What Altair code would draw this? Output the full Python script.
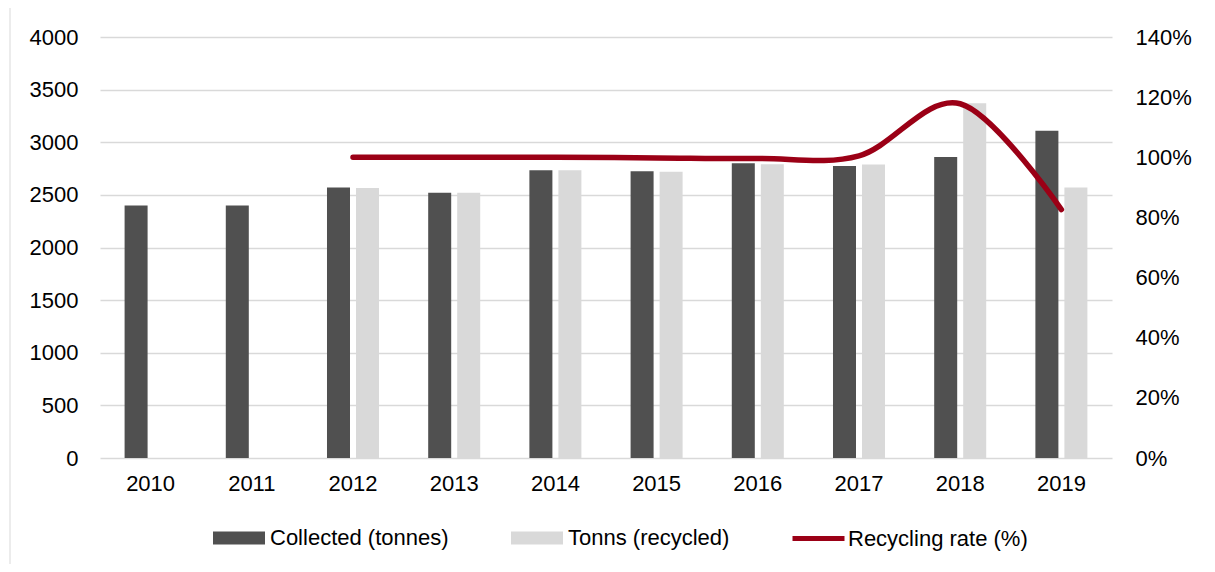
import altair as alt
import pandas as pd

years = ["2010", "2011", "2012", "2013", "2014", "2015", "2016", "2017", "2018", "2019"]
collected = [2400, 2400, 2570, 2520, 2735, 2725, 2800, 2775, 2860, 3110]
recycled = [None, None, 2565, 2520, 2733, 2720, 2790, 2788, 3370, 2570]
rate_years = ["2012", "2013", "2014", "2015", "2016", "2017", "2018", "2019"]
rate = [1.00, 1.00, 1.00, 0.998, 0.996, 1.005, 1.178, 0.826]

S_COL = "Collected (tonnes)"
S_REC = "Tonns (recycled)"
S_RATE = "Recycling rate (%)"

rows = []
for y, c, r in zip(years, collected, recycled):
    rows.append({"year": y, "series": S_COL, "value": c})
    if r is not None:
        rows.append({"year": y, "series": S_REC, "value": r})
bars_df = pd.DataFrame(rows)
line_df = pd.DataFrame({"year": rate_years, "rate": rate, "series": S_RATE})

FONT = "Liberation Sans"
FS = 22

xscale = alt.Scale(domain=years, paddingInner=0.486, paddingOuter=0.243)
xaxis = alt.Axis(title=None, labelFontSize=FS, labelFont=FONT, labelColor="#000000",
                 ticks=False, domain=False, grid=False, labelPadding=15, labelAngle=0)

bars = alt.Chart(bars_df).mark_bar().encode(
    x=alt.X("year:N", scale=xscale, axis=xaxis),
    xOffset=alt.XOffset("series:N", scale=alt.Scale(domain=[S_COL, S_REC], paddingInner=0.207, paddingOuter=0)),
    y=alt.Y("value:Q", scale=alt.Scale(domain=[0, 4000]),
            axis=alt.Axis(title=None, orient="left", values=list(range(0, 4001, 500)), format="d",
                          labelFontSize=FS, labelFont=FONT, labelColor="#000000",
                          ticks=False, domain=False, grid=True, gridColor="#d9d9d9",
                          gridWidth=1.3, labelPadding=22)),
    color=alt.Color("series:N",
                    scale=alt.Scale(domain=[S_COL, S_REC], range=["#505050", "#d9d9d9"]),
                    legend=alt.Legend(title=None, orient="none", legendX=113, legendY=488,
                                      direction="horizontal", columns=2,
                                      symbolType="M-1,-0.5H3V0.5H-1Z", symbolSize=676,
                                      symbolStrokeWidth=0, symbolOpacity=1,
                                      labelFontSize=FS, labelFont=FONT, labelColor="#000000",
                                      labelLimit=0, labelOffset=31, columnPadding=62, padding=0)),
)

line = alt.Chart(line_df).mark_line(interpolate="cardinal", strokeWidth=5.5, strokeCap="round").encode(
    x=alt.X("year:N", scale=xscale, axis=xaxis),
    y=alt.Y("rate:Q", scale=alt.Scale(domain=[0, 1.4]),
            axis=alt.Axis(title=None, orient="right", format=".0%",
                          values=[0, 0.2, 0.4, 0.6, 0.8, 1.0, 1.2, 1.4],
                          labelFontSize=FS, labelFont=FONT, labelColor="#000000",
                          ticks=False, domain=False, grid=False, labelPadding=23)),
    stroke=alt.Stroke("series:N",
                      scale=alt.Scale(domain=[S_RATE], range=["#9b0016"]),
                      legend=alt.Legend(title=None, orient="none", legendX=690, legendY=486,
                                        symbolType="M-1,0H3", symbolSize=676,
                                        symbolStrokeWidth=5, symbolOpacity=1,
                                        labelFontSize=FS, labelFont=FONT, labelColor="#000000",
                                        labelLimit=0, labelOffset=27, padding=0)),
)

frame = alt.Chart(pd.DataFrame({"a": [0]})).mark_rect(fill=None, stroke="#d9d9d9", strokeWidth=1).encode(
    x=alt.value(-90), x2=alt.value(1300), y=alt.value(-30), y2=alt.value(700)
)

chart = alt.layer(frame, bars, line).resolve_scale(
    y="independent", color="independent", stroke="independent"
).properties(
    width=1012, height=421,
    autosize=alt.AutoSizeParams(type="none"),
    padding={"left": 92, "top": 29, "right": 95, "bottom": 106},
    background="#ffffff",
).configure_view(strokeWidth=0, stroke="transparent")

chart.save("out.html", embed_options={"renderer": "svg", "actions": False})
